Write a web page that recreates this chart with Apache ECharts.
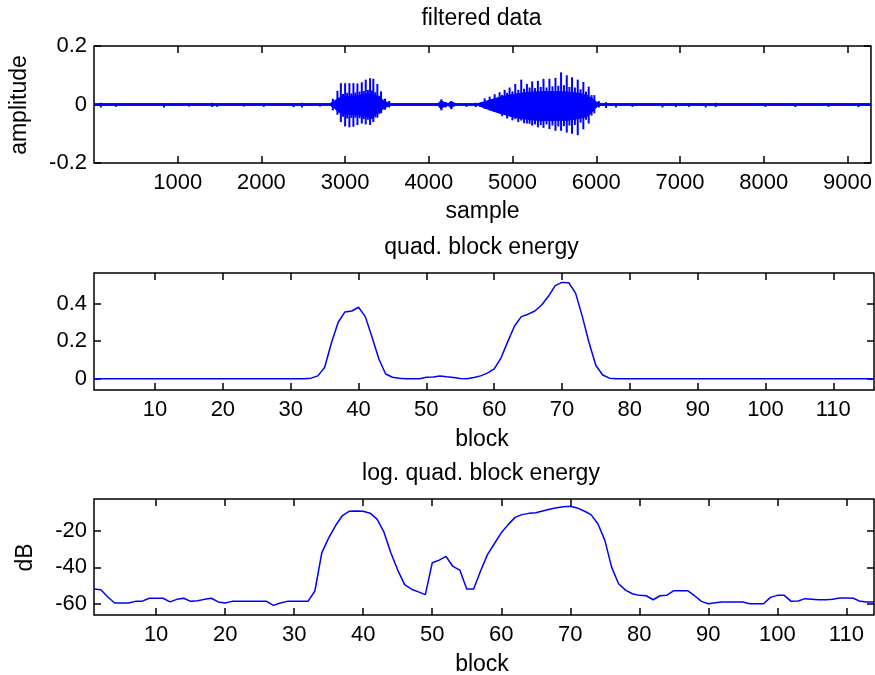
<!DOCTYPE html>
<html>
<head>
<meta charset="utf-8">
<script src="https://cdn.jsdelivr.net/npm/echarts@6/dist/echarts.min.js"></script>
<style>
  html, body { margin: 0; padding: 0; background: #fff; }
  #chart { width: 875px; height: 675px; }
</style>
</head>
<body>
<div id="chart"></div>
<script>
// ---------- filtered speech signal (sample index 1 .. 9280) ----------
const sampleRange = [1, 9280];
const sampleTicks = [1000, 2000, 3000, 4000, 5000, 6000, 7000, 8000, 9000];
const amplitudeTicks = [-0.2, 0, 0.2];

// dense core of the waveform: upper / lower envelope at a few sample positions
const envX  = [1, 2820, 2870, 2920, 3000, 3150, 3250, 3350, 3420, 3480, 3540, 4110, 4140, 4180, 4230, 4260, 4290, 4330, 4580, 4660, 4760, 4860, 4960, 5060, 5200, 5350, 5500, 5650, 5800, 5900, 5960, 6010, 6060, 9280];
const envHi = [0.003, 0.003, 0.012, 0.022, 0.027, 0.03, 0.036, 0.033, 0.022, 0.01, 0.003, 0.003, 0.012, 0.008, 0.003, 0.01, 0.006, 0.003, 0.003, 0.009, 0.018, 0.026, 0.032, 0.037, 0.042, 0.044, 0.044, 0.043, 0.038, 0.03, 0.018, 0.007, 0.003, 0.003];
const envLo = [-0.003, -0.003, -0.012, -0.026, -0.032, -0.035, -0.04, -0.036, -0.024, -0.01, -0.003, -0.003, -0.014, -0.008, -0.003, -0.012, -0.006, -0.003, -0.003, -0.011, -0.022, -0.031, -0.039, -0.046, -0.052, -0.055, -0.055, -0.054, -0.048, -0.039, -0.022, -0.007, -0.003, -0.003];

// pitch pulses of the two voiced segments (peak and trough per pulse)
const pulseX  = [2853, 2908, 2949, 3000, 3051, 3099, 3147, 3199, 3246, 3298, 3337, 3385, 3429, 3476, 3527,
                 4150, 4200, 4270,
                 4667, 4726, 4786, 4845, 4905, 4964, 5032, 5103, 5171, 5234, 5302, 5369, 5440, 5512, 5579, 5647, 5710, 5778, 5845, 5909, 5976, 6030];
const pulseHi = [0.02, 0.047, 0.073, 0.073, 0.073, 0.073, 0.072, 0.076, 0.085, 0.09, 0.088, 0.07, 0.045, 0.02, 0.012,
                 0.018, 0.008, 0.012,
                 0.021, 0.027, 0.035, 0.042, 0.05, 0.058, 0.07, 0.085, 0.07, 0.079, 0.081, 0.088, 0.088, 0.091, 0.11, 0.1, 0.093, 0.085, 0.077, 0.061, 0.032, 0.012];
const pulseLo = [-0.02, -0.035, -0.06, -0.075, -0.078, -0.076, -0.07, -0.065, -0.068, -0.07, -0.06, -0.045, -0.03, -0.018, -0.01,
                 -0.02, -0.01, -0.016,
                 -0.015, -0.02, -0.025, -0.03, -0.035, -0.04, -0.05, -0.055, -0.065, -0.072, -0.078, -0.08, -0.084, -0.09, -0.09, -0.096, -0.1, -0.105, -0.085, -0.065, -0.03, -0.01];

// weaker oscillation peaks between the pitch pulses
const subX  = [2975, 3025, 3075, 3123, 3173, 3222, 3272, 3318, 3361, 3407,
               4875, 4935, 4998, 5068, 5137, 5203, 5268, 5336, 5405, 5476, 5546, 5613, 5679, 5744, 5812, 5877, 5943];
const subHi = [0.036, 0.04, 0.038, 0.041, 0.044, 0.046, 0.05, 0.048, 0.042, 0.03,
               0.033, 0.04, 0.045, 0.05, 0.054, 0.058, 0.056, 0.06, 0.058, 0.062, 0.064, 0.066, 0.06, 0.058, 0.052, 0.044, 0.032];
const subLo = [-0.042, -0.048, -0.046, -0.045, -0.047, -0.05, -0.052, -0.05, -0.044, -0.032,
               -0.04, -0.048, -0.054, -0.06, -0.064, -0.066, -0.068, -0.07, -0.068, -0.072, -0.075, -0.074, -0.072, -0.07, -0.062, -0.052, -0.038];

// small noise blips in the pauses
const blipX  = [83, 262, 837, 1135, 1413, 1472, 1790, 2028, 2385, 2484, 2700, 4449, 4560, 6116, 6235, 6432, 6790, 6949, 7107, 7306, 7425, 8020, 8377, 8774, 9131];
const blipHi = [0.006, 0.005, 0.004, 0.005, 0.006, 0.004, 0.005, 0.004, 0.005, 0.006, 0.004, 0.005, 0.006, 0.008, 0.005, 0.004, 0.005, 0.004, 0.005, 0.004, 0.006, 0.004, 0.005, 0.004, 0.005];
const blipLo = [-0.01, -0.008, -0.01, -0.007, -0.009, -0.008, -0.007, -0.008, -0.009, -0.01, -0.007, -0.008, -0.009, -0.012, -0.01, -0.008, -0.01, -0.009, -0.008, -0.01, -0.009, -0.008, -0.009, -0.008, -0.009];

// ---------- quadratic block energy (blocks 1 .. 116) ----------
const energyRange = [1, 116];
const blockTicks = [10, 20, 30, 40, 50, 60, 70, 80, 90, 100, 110];
const energyTicks = [0, 0.2, 0.4];
const blockEnergy = [
  0, 0, 0, 0, 0, 0, 0, 0, 0, 0,
  0, 0, 0, 0, 0, 0, 0, 0, 0, 0,
  0, 0, 0, 0, 0, 0, 0, 0, 0, 0,
  0, 0, 0.003, 0.015, 0.06, 0.19, 0.3, 0.355, 0.36, 0.38,
  0.33, 0.22, 0.105, 0.025, 0.008, 0.002, 0, 0, 0, 0.008,
  0.009, 0.015, 0.01, 0.006, 0.001, 0, 0.007, 0.015, 0.03, 0.052,
  0.11, 0.197, 0.28, 0.33, 0.343, 0.36, 0.392, 0.438, 0.495, 0.512,
  0.51, 0.455, 0.33, 0.19, 0.07, 0.02, 0.003, 0, 0, 0,
  0, 0, 0, 0, 0, 0, 0, 0, 0, 0,
  0, 0, 0, 0, 0, 0, 0, 0, 0, 0,
  0, 0, 0, 0, 0, 0, 0, 0, 0, 0,
  0, 0, 0, 0, 0, 0
];

// ---------- log. block energy in dB (blocks 1 .. 114) ----------
const logRange = [1, 114];
const dbTicks = [-60, -40, -20];
const logEnergy = [
  -51.9, -52.3, -56.3, -59.6, -59.6, -59.6, -58.7, -58.6, -57, -57,
  -57, -59, -57.6, -57, -58.7, -58.4, -57.6, -57, -59, -59.6,
  -58.7, -58.7, -58.7, -58.7, -58.7, -58.7, -60.9, -59.6, -58.7, -58.7,
  -58.7, -58.7, -53, -32, -23.8, -17, -11.5, -9.1, -9, -9.1,
  -10.2, -13.5, -20.5, -32, -41.5, -49.5, -52, -53.5, -55, -37.5,
  -36, -34, -39.5, -41.5, -51.9, -51.9, -42, -33, -27, -21,
  -16.5, -12.5, -11, -10.3, -10, -9, -8, -7.2, -6.6, -6.4,
  -7.3, -9, -11, -16, -25, -40, -49, -52.5, -54.5, -55.4,
  -55.6, -57.8, -55.6, -55.3, -52.8, -52.8, -52.8, -55.6, -58.7, -60,
  -59.5, -59.1, -59.1, -59.1, -59.1, -60, -60, -60, -56.5, -55.4,
  -55.4, -58.7, -58.5, -57.2, -57.5, -57.8, -57.8, -57.5, -56.9, -56.9,
  -57, -58.7, -59, -59
];

// ---------- drawing ----------
const FONT = '"Liberation Sans", Arial, Helvetica, sans-serif';
const INK = '#000';
const BLUE = '#0000ff';
const plain = v => String(v);

const grids = [
  { left: 94, top: 46,  width: 780, height: 117 },
  { left: 94, top: 273, width: 780, height: 117 },
  { left: 94, top: 499, width: 780, height: 116 }
].map(g => Object.assign({ show: true, borderColor: INK, borderWidth: 1.5, backgroundColor: '#fff' }, g));

const tickStyle = { color: INK, width: 1.5 };

function xPair(gi, range, ticks) {
  const base = { type: 'value', gridIndex: gi, min: range[0], max: range[1],
    axisLine: { show: false, onZero: false }, splitLine: { show: false } };
  return [
    Object.assign({}, base, { position: 'bottom',
      axisTick: { inside: true, length: 7, customValues: ticks, lineStyle: tickStyle },
      axisLabel: { customValues: ticks, margin: 9, fontSize: 22, color: INK, fontFamily: FONT, formatter: plain } }),
    Object.assign({}, base, { position: 'top',
      axisTick: { inside: true, length: 7, customValues: ticks, lineStyle: tickStyle },
      axisLabel: { show: false } })
  ];
}
function yPair(gi, range, ticks) {
  const base = { type: 'value', gridIndex: gi, min: range[0], max: range[1],
    axisLine: { show: false, onZero: false }, splitLine: { show: false } };
  return [
    Object.assign({}, base, { position: 'left',
      axisTick: { inside: true, length: 7, customValues: ticks, lineStyle: tickStyle },
      axisLabel: { customValues: ticks, margin: 7, fontSize: 22, color: INK, fontFamily: FONT, formatter: plain } }),
    Object.assign({}, base, { position: 'right',
      axisTick: { inside: true, length: 7, customValues: ticks, lineStyle: tickStyle },
      axisLabel: { show: false } })
  ];
}

// envelope segments: [x0, hi0, lo0, x1, hi1, lo1]
const envSegments = envX.slice(0, -1).map((x, i) => [x, envHi[i], envLo[i], envX[i + 1], envHi[i + 1], envLo[i + 1]]);
const pulses = pulseX.map((x, i) => [x, pulseHi[i], pulseLo[i]]);
const subPeaks = subX.map((x, i) => [x, subHi[i], subLo[i]]);
const blips = blipX.map((x, i) => [x, blipHi[i], blipLo[i]]);

function renderBand(params, api) {
  const a = api.coord([api.value(0), api.value(1)]);
  const b = api.coord([api.value(3), api.value(4)]);
  const c = api.coord([api.value(3), api.value(5)]);
  const d = api.coord([api.value(0), api.value(2)]);
  return { type: 'polygon', shape: { points: [a, b, c, d] },
    style: { fill: BLUE, stroke: BLUE, lineWidth: 1 } };
}
function renderStroke(params, api) {
  const top = api.coord([api.value(0), api.value(1)]);
  const bot = api.coord([api.value(0), api.value(2)]);
  return { type: 'line', shape: { x1: top[0], y1: top[1], x2: bot[0], y2: bot[1] },
    style: { stroke: BLUE, lineWidth: 2 } };
}
function strokeSeries(name, data) {
  return { type: 'custom', name: name, xAxisIndex: 0, yAxisIndex: 0, clip: true,
    renderItem: renderStroke, data: data, encode: { x: 0, y: [1, 2] } };
}

function label(text, x, y, rot) {
  return { type: 'text', x: x, y: y, rotation: rot || 0, silent: true,
    style: { text: text, fill: INK, font: '23px ' + FONT, align: 'center', verticalAlign: 'middle' } };
}

const chart = echarts.init(document.getElementById('chart'), null, { renderer: 'canvas' });
chart.setOption({
  animation: false,
  backgroundColor: '#fff',
  grid: grids,
  xAxis: [].concat(xPair(0, sampleRange, sampleTicks), xPair(1, energyRange, blockTicks), xPair(2, logRange, blockTicks)),
  yAxis: [].concat(yPair(0, [-0.2, 0.2], amplitudeTicks), yPair(1, [-0.06, 0.562], energyTicks), yPair(2, [-66.2, -2.4], dbTicks)),
  series: [
    { type: 'custom', name: 'envelope', xAxisIndex: 0, yAxisIndex: 0, clip: true,
      renderItem: renderBand, data: envSegments, encode: { x: [0, 3], y: [1, 2, 4, 5] } },
    strokeSeries('pulses', pulses),
    strokeSeries('sub peaks', subPeaks),
    strokeSeries('blips', blips),
    { type: 'line', name: 'quad. block energy', xAxisIndex: 2, yAxisIndex: 2,
      data: blockEnergy.map((v, i) => [i + 1, v]), symbol: 'none',
      lineStyle: { color: BLUE, width: 1.5 } },
    { type: 'line', name: 'log. quad. block energy', xAxisIndex: 4, yAxisIndex: 4,
      data: logEnergy.map((v, i) => [i + 1, v]), symbol: 'none',
      lineStyle: { color: BLUE, width: 1.5 } }
  ],
  graphic: [
    label('filtered data', 481.5, 19),
    label('sample', 482.5, 212),
    label('amplitude', 20, 105, Math.PI / 2),
    label('quad. block energy', 481.5, 247.5),
    label('block', 482, 439.5),
    label('log. quad. block energy', 481, 473.5),
    label('block', 482, 664.5),
    label('dB', 25.3, 557.5, Math.PI / 2)
  ]
});
</script>
</body>
</html>
